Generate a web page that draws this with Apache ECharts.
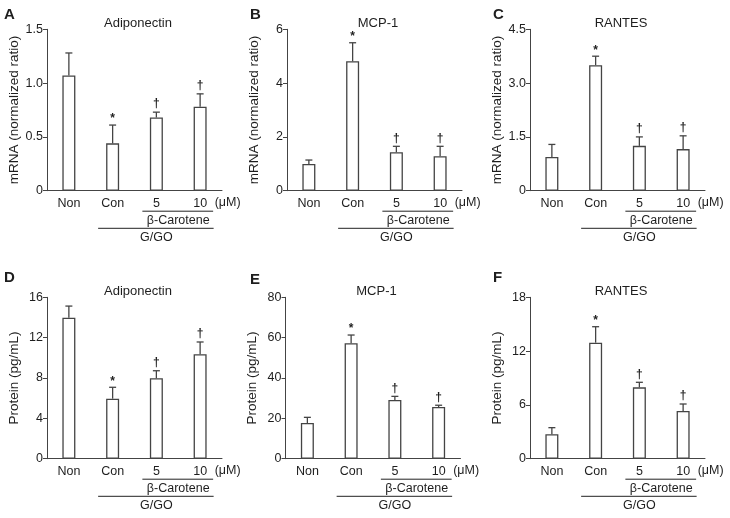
<!DOCTYPE html>
<html>
<head>
<meta charset="utf-8">
<script src="https://cdn.jsdelivr.net/npm/echarts@6/dist/echarts.min.js"></script>
<style>
  html, body { margin: 0; padding: 0; background: #fff; }
  #main { width: 730px; height: 518px; }
</style>
</head>
<body>
<div id="main"></div>
<script>
// groups on the x axis
const categories = ['Non', 'Con', '5', '10'];
// significance marks above the error bars
const marks = ['', '*', '†', '†'];

// mRNA (normalized ratio): mean and SD
const adipoMrna = [1.07, 0.44, 0.68, 0.78];
const adipoMrnaSd = [0.21, 0.17, 0.05, 0.12];
const mcpMrna = [0.99, 4.81, 1.43, 1.28];
const mcpMrnaSd = [0.15, 0.69, 0.22, 0.37];
const rantesMrna = [0.94, 3.50, 1.25, 1.16];
const rantesMrnaSd = [0.35, 0.25, 0.25, 0.37];

// Protein (pg/mL): mean and SD
const adipoProt = [13.98, 5.95, 7.97, 10.35];
const adipoProtSd = [1.15, 1.13, 0.75, 1.22];
const mcpProt = [17.7, 57.2, 29.1, 25.6];
const mcpProtSd = [2.8, 4.1, 1.8, 0.9];
const rantesProt = [2.72, 12.94, 7.96, 5.32];
const rantesProtSd = [0.74, 1.78, 0.56, 0.78];

// y axis ranges
const yMax = [1.5, 6, 4.5, 16, 80, 18];
const yStep = [0.5, 2, 1.5, 4, 20, 6];
const yDigits = [1, 0, 1, 0, 0, 0];

const FONT = '"Liberation Sans", Arial, Helvetica, sans-serif';
const INK = '#1e1e1e';
const LINE = '#444';

const panels = [
  { letter: 'A', title: 'Adiponectin', yName: 'mRNA (normalized ratio)', data: adipoMrna, sd: adipoMrnaSd, left: 47, top: 29.3, lx: 4, ly: 15 },
  { letter: 'B', title: 'MCP-1', yName: 'mRNA (normalized ratio)', data: mcpMrna, sd: mcpMrnaSd, left: 287, top: 29.3, lx: 250, ly: 15 },
  { letter: 'C', title: 'RANTES', yName: 'mRNA (normalized ratio)', data: rantesMrna, sd: rantesMrnaSd, left: 530, top: 29.3, lx: 493, ly: 15 },
  { letter: 'D', title: 'Adiponectin', yName: 'Protein (pg/mL)', data: adipoProt, sd: adipoProtSd, left: 47, top: 297.3, lx: 4, ly: 278 },
  { letter: 'E', title: 'MCP-1', yName: 'Protein (pg/mL)', data: mcpProt, sd: mcpProtSd, left: 285.5, top: 297.3, lx: 250, ly: 280 },
  { letter: 'F', title: 'RANTES', yName: 'Protein (pg/mL)', data: rantesProt, sd: rantesProtSd, left: 530, top: 297.3, lx: 493, ly: 278 }
];

const chart = echarts.init(document.getElementById('main'));

const grids = [], xAxes = [], yAxes = [], series = [];

panels.forEach((p, i) => {
  grids.push({ left: p.left, top: p.top, width: 175, height: 161.4 });

  xAxes.push({
    gridIndex: i,
    type: 'category',
    data: categories,
    axisLine: { lineStyle: { color: LINE, width: 1 } },
    axisTick: { length: 4, lineStyle: { color: LINE } },
    axisLabel: { interval: 0, margin: 6, fontSize: 12.5, color: INK, fontFamily: FONT }
  });

  yAxes.push({
    gridIndex: i,
    type: 'value',
    min: 0,
    max: yMax[i],
    interval: yStep[i],
    name: p.yName,
    nameLocation: 'middle',
    nameGap: 26,
    nameTextStyle: { fontSize: 13.5, color: INK, fontFamily: FONT },
    axisLine: { show: true, lineStyle: { color: LINE, width: 1 } },
    axisTick: { show: true, length: 4, lineStyle: { color: LINE } },
    splitLine: { show: false },
    axisLabel: {
      margin: 4, fontSize: 12.5, color: INK, fontFamily: FONT,
      formatter: v => (v === 0 ? '0' : v.toFixed(yDigits[i]))
    }
  });

  series.push({
    type: 'bar',
    xAxisIndex: i,
    yAxisIndex: i,
    data: p.data,
    barWidth: 13,
    silent: true,
    itemStyle: { color: '#fff', borderColor: LINE, borderWidth: 1.3 }
  });

  // upper error bars + significance marks
  series.push({
    type: 'custom',
    xAxisIndex: i,
    yAxisIndex: i,
    z: 5,
    silent: true,
    data: p.data.map((m, k) => [k, m, m + p.sd[k]]),
    renderItem: (params, api) => {
      const base = api.coord([api.value(0), api.value(1)]);
      const top = api.coord([api.value(0), api.value(2)]);
      const st = { stroke: LINE, lineWidth: 1.3 };
      const children = [
        { type: 'line', shape: { x1: base[0], y1: base[1], x2: top[0], y2: top[1] }, style: st },
        { type: 'line', shape: { x1: top[0] - 3.5, y1: top[1], x2: top[0] + 3.5, y2: top[1] }, style: st }
      ];
      const mk = marks[params.dataIndex];
      if (mk) {
        children.push({
          type: 'text',
          x: top[0],
          y: top[1] - (mk === '*' ? 6 : 8),
          style: { text: mk, align: 'center', verticalAlign: 'middle', font: 'bold 12px ' + FONT, fill: INK }
        });
      }
      return { type: 'group', children };
    }
  });
});

chart.setOption({
  animation: false,
  backgroundColor: '#fff',
  grid: grids,
  xAxis: xAxes,
  yAxis: yAxes,
  series: series
});

// labels and group brackets under the x axes
const gfx = [];
const txt = (x, y, text, align, size, bold) => ({
  type: 'text', x, y, silent: true,
  style: { text, align, verticalAlign: 'middle', font: (bold ? 'bold ' : '') + size + 'px ' + FONT, fill: INK }
});
const ln = (x1, x2, y) => ({
  type: 'line', silent: true,
  shape: { x1, y1: y, x2, y2: y },
  style: { stroke: '#222', lineWidth: 1 }
});

panels.forEach((p, i) => {
  const c = categories.map((_, k) => chart.convertToPixel({ gridIndex: i }, [k, 0]));
  const axisY = c[0][1];
  const cx = c.map(v => v[0]);

  gfx.push(txt(p.lx, p.ly, p.letter, 'left', 15, true));
  gfx.push(txt(p.left + 91, p.top - 6, p.title, 'center', 13, false));

  gfx.push(txt(cx[3] + 14.5, axisY + 12, '(μM)', 'left', 12.5, false));
  gfx.push(ln(cx[2] - 14, cx[3] + 13, axisY + 20.5));
  gfx.push(txt((cx[2] + cx[3]) / 2, axisY + 29.5, 'β-Carotene', 'center', 12.5, false));
  gfx.push(ln(cx[1] - 14.5, cx[3] + 13.5, axisY + 37.6));
  gfx.push(txt((cx[1] + cx[3]) / 2, axisY + 47, 'G/GO', 'center', 12.5, false));
});

chart.setOption({ graphic: { elements: gfx } });
</script>
</body>
</html>
